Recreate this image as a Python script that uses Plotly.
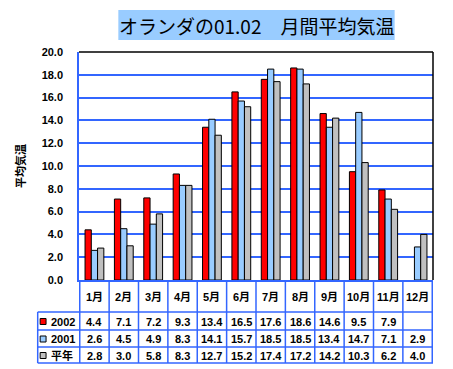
import plotly.graph_objects as go

months = ["1月", "2月", "3月", "4月", "5月", "6月", "7月", "8月", "9月", "10月", "11月", "12月"]
series_names = ["2002", "2001", "平年"]
temp_2002 = [4.4, 7.1, 7.2, 9.3, 13.4, 16.5, 17.6, 18.6, 14.6, 9.5, 7.9, None]
temp_2001 = [2.6, 4.5, 4.9, 8.3, 14.1, 15.7, 18.5, 18.5, 13.4, 14.7, 7.1, 2.9]
temp_normal = [2.8, 3.0, 5.8, 8.3, 12.7, 15.2, 17.4, 17.2, 14.2, 10.3, 6.2, 4.0]
colors = ["#FF0000", "#99CCFF", "#C0C0C0"]
title_text = "オランダの01.02　月間平均気温"
y_title = "平均気温"

# page offset (browser body margin)
OFF = 8
W, H = 453 - OFF, 369 - OFF
# desired plot area in window pixels: x 73..433, y 52..280
PL, PR, PT, PB = 73, 433, 52, 280
L, T = PL - OFF, PT - OFF
R = W - (PR - OFF)
B = H - (PB - OFF)
PH = PB - PT
PW = PR - PL
BLUE = "#3366FF"
FONT = "Arial, 'Liberation Sans', 'Noto Sans CJK JP', sans-serif"


def py(pix):
    return (PB - pix) / PH


def px(pix):
    return (pix - PL) / PW


series = [temp_2002, temp_2001, temp_normal]
fig = go.Figure()
for name, vals, c in zip(series_names, series, colors):
    fig.add_trace(go.Bar(x=months, y=vals, name=name, marker=dict(color=c, line=dict(color="black", width=1))))

shapes = []
annotations = []

# title box
shapes.append(dict(type="rect", xref="paper", yref="paper", x0=px(113), x1=px(394), y0=py(40), y1=py(10),
                   fillcolor="#99CCFF", line=dict(width=0), layer="below"))
annotations.append(dict(text=title_text, xref="paper", yref="paper", x=px(253.5), y=py(25.5),
                        showarrow=False, xanchor="center", yanchor="middle",
                        font=dict(family="'Noto Sans CJK JP', sans-serif", size=19, color="black")))

# top and right black border
shapes.append(dict(type="line", xref="paper", yref="paper", x0=0, x1=1, y0=1, y1=1, line=dict(color="black", width=1.5), layer="above"))
shapes.append(dict(type="line", xref="paper", yref="paper", x0=1, x1=1, y0=0, y1=1, line=dict(color="black", width=1.5), layer="above"))

# table geometry
row_lines = [312, 330, 347, 363]
legend_left = 31
tline = dict(color=BLUE, width=1.5)
for i in range(len(months) + 1):
    shapes.append(dict(type="line", xref="x", yref="paper", x0=i - 0.5, x1=i - 0.5, y0=py(363), y1=0, line=tline))
shapes.append(dict(type="line", xref="paper", yref="paper", x0=px(legend_left), x1=1, y0=py(312), y1=py(312), line=tline))
for r in row_lines[1:]:
    shapes.append(dict(type="line", xref="paper", yref="paper", x0=px(legend_left), x1=1, y0=py(r), y1=py(r), line=tline))
shapes.append(dict(type="line", xref="paper", yref="paper", x0=px(legend_left), x1=px(legend_left), y0=py(312), y1=py(363), line=tline))

tfont = dict(family=FONT, size=11, color="black", weight="bold")
# month header
for m in months:
    annotations.append(dict(text=m, xref="x", yref="paper", x=m, y=py(297), showarrow=False,
                            xanchor="center", yanchor="middle", font=tfont))
# data rows
for k, (name, vals, c) in enumerate(zip(series_names, series, colors)):
    top, bot = row_lines[k], row_lines[k + 1]
    yc = (top + bot) / 2 + 0.5
    for m, v in zip(months, vals):
        if v is None:
            continue
        annotations.append(dict(text=f"{v:.1f}", xref="x", yref="paper", x=m, y=py(yc), showarrow=False,
                                xanchor="center", yanchor="middle", font=tfont))
    # legend key
    shapes.append(dict(type="rect", xref="paper", yref="paper", x0=px(33.5), x1=px(39.5), y0=py(yc + 3), y1=py(yc - 3),
                       fillcolor=c, line=dict(color="black", width=1)))
    annotations.append(dict(text=name, xref="paper", yref="paper", x=px(42), y=py(yc), showarrow=False,
                            xanchor="left", yanchor="middle", font=tfont))

fig.update_layout(
    width=W, height=H,
    margin=dict(l=L, r=R, t=T, b=B, pad=0),
    paper_bgcolor="white", plot_bgcolor="white",
    barmode="group", bargap=0.36, bargroupgap=0,
    showlegend=False,
    shapes=shapes, annotations=annotations,
    font=dict(family=FONT, color="black"),
)
fig.update_xaxes(showticklabels=False, showgrid=False, showline=True, linecolor=BLUE, linewidth=1.5,
                 ticks="", zeroline=False)
fig.update_yaxes(range=[0, 20], dtick=2, tickformat=".1f", showgrid=True, gridcolor=BLUE, gridwidth=1.5,
                 showline=True, linecolor=BLUE, linewidth=1.5, zeroline=False, ticks="",
                 ticklabelstandoff=12,
                 tickfont=dict(family=FONT, size=11, color="black", weight="bold"),
                 title=dict(text=y_title, standoff=14,
                            font=dict(family="'Noto Sans CJK JP', sans-serif", size=11, color="black", weight="bold")))

fig.write_html("out.html")
